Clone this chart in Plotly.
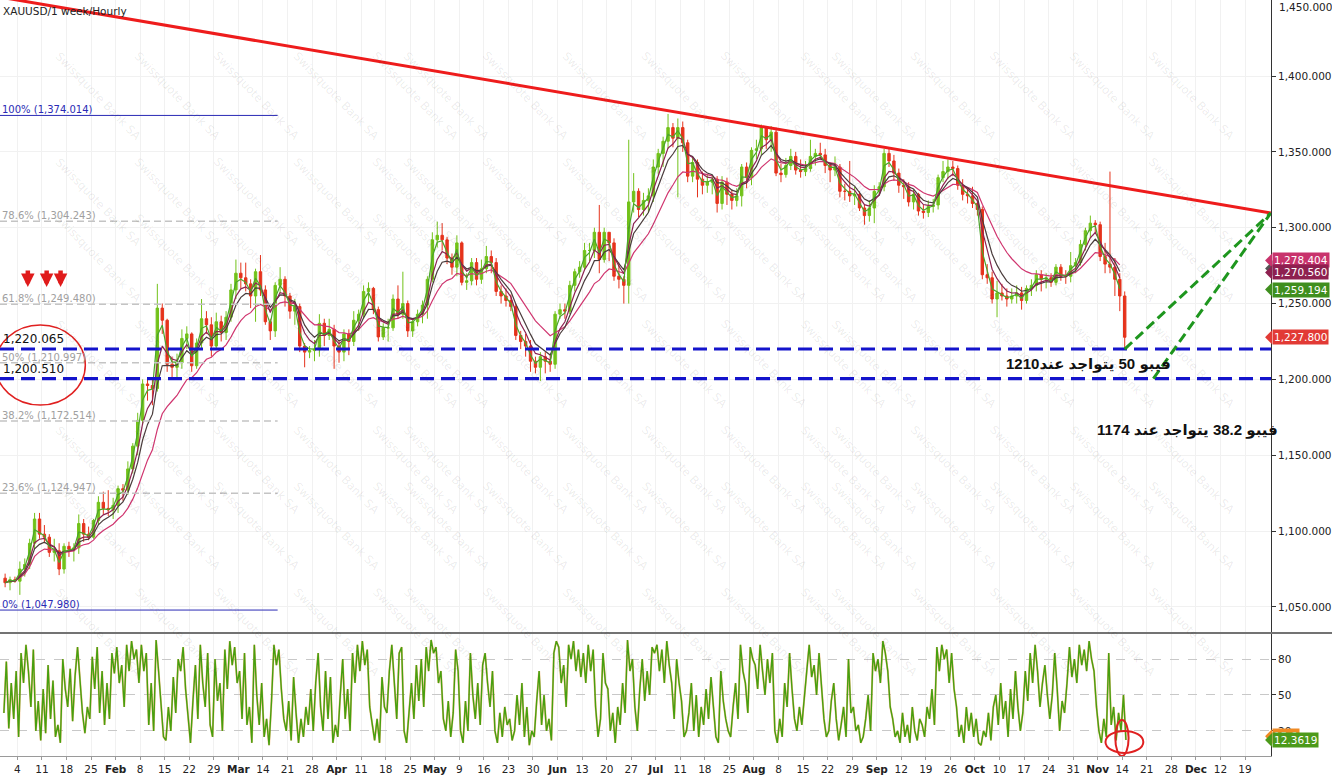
import pandas as pd
import plotly.graph_objects as go

# ---------------- data ----------------
trade_days = pd.bdate_range("2015-12-30", "2016-11-14")

price_open = [
    1069, 1066, 1068,
    1067, 1075, 1078, 1092, 1108,
    1098, 1096, 1086, 1087, 1075,
    1090, 1088, 1089, 1105, 1098,
    1096, 1107, 1119, 1115, 1114,
    1117, 1128, 1127, 1141, 1156,
    1173, 1197, 1196, 1194, 1247,
    1239, 1210, 1208, 1211, 1227,
    1230, 1209, 1224, 1240, 1236,
    1222, 1238, 1231, 1241, 1259,
    1270, 1267, 1263, 1255, 1271,
    1259, 1238, 1232, 1262, 1266,
    1255, 1245, 1248, 1222, 1218,
    1219, 1220, 1237, 1229, 1233,
    1222, 1218, 1230, 1225, 1239,
    1243, 1258, 1260, 1246, 1228,
    1234, 1234, 1253, 1243, 1250,
    1232, 1238, 1243, 1249, 1266,
    1292, 1295, 1292, 1280, 1274,
    1290, 1264, 1265, 1277, 1266,
    1273, 1281, 1277, 1258, 1255,
    1252, 1248, 1229, 1225, 1222,
    1212, 1208, 1215, 1212, 1210,
    1243, 1246, 1245, 1262, 1271,
    1274, 1285, 1285, 1297, 1279,
    1297, 1290, 1268, 1266, 1262,
    1317, 1324, 1312, 1318, 1321,
    1340, 1349, 1357, 1366, 1359,
    1366, 1356, 1334, 1343, 1332,
    1328, 1330, 1332, 1316, 1330,
    1322, 1318, 1321, 1340, 1333,
    1351, 1352, 1366, 1358, 1363,
    1336, 1335, 1341, 1347, 1338,
    1337, 1339, 1347, 1349, 1348,
    1341, 1338, 1340, 1324, 1324,
    1321, 1322, 1313, 1308, 1313,
    1324, 1327, 1349, 1344, 1336,
    1328, 1327, 1317, 1322, 1311,
    1310, 1314, 1315, 1333, 1337,
    1340, 1339, 1328, 1322, 1321,
    1316, 1312, 1269, 1267, 1253,
    1257, 1255, 1253, 1255, 1257,
    1252, 1260, 1262, 1269, 1266,
    1267, 1264, 1274, 1268, 1268,
    1275, 1277, 1289, 1298, 1303,
    1302, 1281, 1276, 1274, 1266,
    1255,
]
price_high = [
    1072, 1070, 1070,
    1080, 1082, 1095, 1112, 1112,
    1104, 1098, 1095, 1092, 1092,
    1093, 1092, 1111, 1108, 1103,
    1108, 1123, 1126, 1127, 1122,
    1130, 1131, 1146, 1158, 1178,
    1200, 1200, 1200, 1263, 1250,
    1240, 1215, 1217, 1233, 1235,
    1231, 1227, 1253, 1245, 1241,
    1244, 1242, 1245, 1263, 1279,
    1277, 1277, 1266, 1273, 1282,
    1262, 1240, 1264, 1274, 1268,
    1257, 1253, 1250, 1224, 1222,
    1226, 1243, 1240, 1240, 1236,
    1226, 1233, 1233, 1245, 1246,
    1262, 1264, 1261, 1248, 1237,
    1240, 1256, 1262, 1271, 1252,
    1240, 1246, 1252, 1268, 1297,
    1304, 1303, 1294, 1283, 1295,
    1291, 1270, 1280, 1280, 1279,
    1288, 1285, 1280, 1262, 1260,
    1256, 1250, 1232, 1230, 1226,
    1215, 1218, 1218, 1216, 1245,
    1250, 1250, 1265, 1273, 1278,
    1290, 1290, 1300, 1315, 1300,
    1297, 1293, 1277, 1268, 1358,
    1336, 1326, 1323, 1326, 1345,
    1352, 1360, 1375, 1369, 1372,
    1370, 1358, 1347, 1345, 1337,
    1335, 1334, 1334, 1334, 1333,
    1325, 1326, 1342, 1343, 1353,
    1358, 1368, 1367, 1367, 1366,
    1342, 1346, 1352, 1350, 1345,
    1344, 1358, 1352, 1356, 1352,
    1342, 1347, 1342, 1329, 1344,
    1327, 1324, 1315, 1318, 1328,
    1330, 1352, 1353, 1348, 1339,
    1332, 1330, 1325, 1323, 1315,
    1318, 1319, 1335, 1344, 1345,
    1344, 1341, 1332, 1326, 1327,
    1318, 1314, 1276, 1271, 1265,
    1263, 1260, 1260, 1262, 1261,
    1262, 1266, 1272, 1272, 1270,
    1270, 1276, 1276, 1272, 1284,
    1280, 1292, 1300, 1308, 1305,
    1304, 1290, 1337, 1280, 1270,
    1258,
]
price_low = [
    1063, 1061, 1066,
    1058, 1070, 1075, 1088, 1095,
    1092, 1083, 1080, 1071, 1072,
    1083, 1080, 1085, 1093, 1094,
    1095, 1104, 1111, 1110, 1108,
    1112, 1120, 1124, 1138, 1150,
    1170, 1186, 1183, 1192, 1230,
    1205, 1201, 1200, 1207, 1220,
    1205, 1207, 1220, 1230, 1215,
    1220, 1225, 1226, 1238, 1253,
    1260, 1258, 1247, 1238, 1255,
    1236, 1226, 1228, 1257, 1248,
    1240, 1236, 1218, 1208, 1214,
    1212, 1215, 1222, 1226, 1207,
    1211, 1212, 1216, 1222, 1232,
    1240, 1251, 1243, 1225, 1226,
    1225, 1232, 1240, 1240, 1228,
    1228, 1235, 1237, 1240, 1264,
    1287, 1285, 1276, 1269, 1268,
    1262, 1259, 1262, 1262, 1263,
    1270, 1270, 1255, 1250, 1248,
    1245, 1226, 1220, 1215, 1205,
    1204, 1199, 1204, 1205, 1207,
    1240, 1240, 1243, 1258, 1267,
    1272, 1278, 1280, 1270, 1277,
    1278, 1265, 1260, 1250, 1250,
    1310, 1307, 1308, 1310, 1317,
    1335, 1340, 1352, 1353, 1320,
    1350, 1330, 1330, 1320, 1322,
    1323, 1322, 1310, 1312, 1315,
    1312, 1314, 1314, 1326, 1328,
    1345, 1348, 1352, 1350, 1334,
    1330, 1333, 1338, 1335, 1333,
    1334, 1337, 1341, 1345, 1336,
    1330, 1334, 1320, 1318, 1317,
    1315, 1311, 1302, 1304, 1303,
    1322, 1324, 1340, 1331, 1323,
    1319, 1314, 1312, 1308, 1306,
    1307, 1310, 1312, 1330, 1332,
    1334, 1325, 1318, 1316, 1313,
    1308, 1266, 1263, 1250, 1241,
    1252, 1248, 1250, 1250, 1246,
    1250, 1255, 1258, 1258, 1260,
    1261, 1262, 1265, 1263, 1264,
    1270, 1275, 1285, 1293, 1296,
    1278, 1270, 1270, 1255, 1245,
    1220,
]
price_close = [
    1066, 1068, 1067,
    1075, 1078, 1092, 1108, 1098,
    1096, 1086, 1087, 1075, 1090,
    1088, 1089, 1105, 1098, 1096,
    1107, 1119, 1115, 1114, 1117,
    1128, 1127, 1141, 1156, 1173,
    1197, 1196, 1194, 1247, 1239,
    1210, 1208, 1211, 1227, 1230,
    1209, 1224, 1240, 1236, 1222,
    1238, 1231, 1241, 1259, 1270,
    1267, 1263, 1255, 1271, 1259,
    1238, 1232, 1262, 1266, 1255,
    1245, 1248, 1222, 1218, 1219,
    1220, 1237, 1229, 1233, 1222,
    1218, 1230, 1225, 1239, 1243,
    1258, 1260, 1246, 1228, 1234,
    1234, 1253, 1243, 1250, 1232,
    1238, 1243, 1249, 1266, 1292,
    1295, 1292, 1280, 1274, 1290,
    1264, 1265, 1277, 1266, 1273,
    1281, 1277, 1258, 1255, 1252,
    1248, 1229, 1225, 1222, 1212,
    1208, 1215, 1212, 1210, 1243,
    1246, 1245, 1262, 1271, 1274,
    1285, 1285, 1297, 1279, 1297,
    1290, 1268, 1266, 1262, 1317,
    1324, 1312, 1318, 1321, 1340,
    1349, 1357, 1366, 1359, 1366,
    1356, 1334, 1343, 1332, 1328,
    1330, 1332, 1316, 1330, 1322,
    1318, 1321, 1340, 1333, 1351,
    1352, 1366, 1358, 1363, 1336,
    1335, 1341, 1347, 1338, 1337,
    1339, 1347, 1349, 1348, 1341,
    1338, 1340, 1324, 1324, 1321,
    1322, 1313, 1308, 1313, 1324,
    1327, 1349, 1344, 1336, 1328,
    1327, 1317, 1322, 1311, 1310,
    1314, 1315, 1333, 1337, 1340,
    1339, 1328, 1322, 1321, 1316,
    1312, 1269, 1267, 1253, 1257,
    1255, 1253, 1255, 1257, 1252,
    1260, 1262, 1269, 1266, 1267,
    1264, 1274, 1268, 1268, 1275,
    1277, 1289, 1298, 1303, 1302,
    1281, 1276, 1274, 1266, 1255,
    1227.8,
]

# stochastic %K, two readings per trading day
stoch_k = [
    35, 78, 22, 60, 30, 70,
    15, 85, 60, 92, 70, 40, 88, 20, 45, 12,
    55, 18, 75, 30, 62, 15, 25, 10, 80, 55,
    40, 72, 28, 66, 90, 60, 35, 18, 40, 30,
    82, 55, 90, 35, 70, 25, 60, 30, 85, 68,
    90, 60, 75, 40, 92, 70, 95, 80, 88, 60,
    92, 70, 85, 25, 60, 20, 96, 70, 45, 15,
    12, 40, 20, 65, 35, 80, 70, 90, 55, 30,
    10, 45, 75, 30, 92, 60, 40, 85, 25, 15,
    80, 45, 60, 20, 88, 55, 95, 75, 90, 60,
    70, 30, 85, 25, 40, 10, 92, 50, 25, 60,
    15, 30, 8, 45, 92, 75, 88, 55, 30, 20,
    45, 12, 65, 35, 10, 30, 15, 40, 25, 55,
    20, 60, 85, 40, 20, 70, 30, 65, 10, 25,
    15, 50, 80, 30, 55, 20, 85, 60, 92, 70,
    95, 75, 88, 40, 25, 12, 30, 10, 65, 40,
    35, 70, 92, 60, 30, 85, 90, 20, 10, 35,
    60, 30, 75, 45, 80, 40, 90, 70, 96, 85,
    90, 60, 70, 30, 20, 45, 15, 35, 88, 70,
    20, 10, 45, 20, 85, 50, 30, 60, 25, 75,
    85, 60, 40, 70, 20, 10, 35, 15, 40, 25,
    30, 12, 20, 50, 25, 60, 15, 40, 8, 20,
    15, 45, 70, 25, 50, 20, 30, 12, 85, 95,
    90, 60, 75, 40, 92, 80, 95, 70, 88, 65,
    85, 60, 92, 70, 88, 40, 15, 30, 85, 60,
    55, 20, 35, 10, 40, 25, 60, 35, 96, 70,
    80, 40, 20, 55, 80, 45, 70, 50, 90, 85,
    92, 70, 88, 60, 95, 75, 60, 30, 80, 60,
    45, 15, 20, 35, 60, 20, 50, 15, 40, 25,
    55, 30, 65, 40, 15, 10, 70, 45, 30, 20,
    15, 40, 60, 30, 92, 70, 60, 35, 90, 80,
    75, 55, 92, 70, 50, 80, 60, 85, 20, 10,
    30, 15, 60, 40, 85, 55, 30, 20, 40, 25,
    45, 70, 92, 65, 75, 50, 85, 60, 30, 15,
    20, 45, 60, 30, 12, 25, 40, 15, 80, 35,
    40, 20, 25, 10, 15, 30, 50, 20, 85, 70,
    80, 60, 95, 85, 70, 40, 30, 15, 20, 10,
    35, 15, 25, 10, 40, 20, 12, 30, 25, 15,
    40, 30, 55, 25, 90, 70, 92, 80, 88, 60,
    85, 55, 40, 15, 25, 10, 40, 20, 35, 15,
    30, 10, 8, 20, 15, 35, 12, 40, 50, 25,
    60, 30, 45, 15, 55, 30, 70, 40, 20, 35,
    70, 45, 85, 60, 92, 70, 40, 60, 75, 50,
    30, 50, 85, 55, 20, 45, 35, 60, 90, 65,
    80, 60, 92, 75, 88, 70, 95, 80, 70, 40,
    20, 10, 30, 15, 85, 25, 40, 12, 35, 20,
    50, 12.3619,
]

tick_dates = pd.date_range("2016-01-04", periods=51, freq="7D")
tick_labels = ["4", "11", "18", "25", "Feb", "8", "15", "22", "29", "Mar", "14", "21", "28",
               "Apr", "11", "18", "25", "May", "9", "16", "23", "30", "Jun", "13", "20", "27",
               "Jul", "11", "18", "25", "Aug", "8", "15", "22", "29", "Sep", "12", "19", "26",
               "Oct", "10", "17", "24", "31", "Nov", "14", "21", "28", "Dec", "12", "19"]
month_names = {"Feb", "Mar", "Apr", "May", "Jun", "Jul", "Aug", "Sep", "Oct", "Nov", "Dec"}

price_ticks = [1050, 1100, 1150, 1200, 1250, 1300, 1350, 1400]

fib_labels = ["100% (1,374.014)", "78.6% (1,304.243)", "61.8% (1,249.480)", "50% (1,210.997)",
              "38.2% (1,172.514)", "23.6% (1,124.947)", "0% (1,047.980)"]
fib_levels = [1374.014, 1304.243, 1249.480, 1210.997, 1172.514, 1124.947, 1047.980]
fib_start, fib_end = "2015-12-29 11:00", "2016-03-17 00:00"

support_levels = [1220.065, 1200.510]
support_labels = ["1,220.065", "1,200.510"]

trend_pts = [("2015-12-29 11:00", 1452.0), ("2016-12-26 06:00", 1309.7)]
target_lines = [("2016-11-14 12:00", 1220.0), ("2016-11-22 08:00", 1200.5)]

ma_spans = [13, 6, 4, 2]
ma_colors = ["#d0356f", "#4a3c3c", "#8c2352", "#4aa52a"]

tag_values = [1273.195, 1278.404, 1270.560, 1259.194, 1227.800]
tag_texts = ["1,273.195", "1,278.404", "1,270.560", "1,259.194", "1,227.800"]
tag_colors = ["#555555", "#c8336c", "#8e2050", "#3f8f1f", "#e23a35"]

stoch_tag_values = [15.6, 12.3619]
stoch_tag_texts = ["15.6", "12.3619"]
stoch_tag_colors = ["#f08a24", "#4c9a1a"]

arrow_x = ["2016-01-06 03:00", "2016-01-11 23:00", "2016-01-14 19:00"]
arrow_y = 1261

arabic_notes = ["<b>فيبو 50 يتواجد عند1210</b>", "<b>فيبو 38.2 يتواجد عند 1174</b>"]
arabic_pos = [("2016-11-01 00:00", 1210.2), ("2016-11-29 05:00", 1166.6)]

# ---------------- figure ----------------
FONT = "DejaVu Sans"
UP, DN = "#72c21a", "#e5331c"
candle_x = trade_days + pd.Timedelta(hours=12)
stoch_x = [d + pd.Timedelta(hours=h) for d in trade_days for h in (6, 18)]
assert len(price_open) == len(price_high) == len(price_low) == len(price_close) == len(trade_days)
assert len(stoch_k) == len(stoch_x)

fig = go.Figure()
fig.add_trace(go.Candlestick(
    x=candle_x, open=price_open, high=price_high, low=price_low, close=price_close,
    increasing=dict(line=dict(color=UP, width=1), fillcolor=UP),
    decreasing=dict(line=dict(color=DN, width=1), fillcolor=DN),
    whiskerwidth=0, xaxis="x", yaxis="y", showlegend=False))

closes = pd.Series(price_close[:-1])
for span, col in zip(ma_spans, ma_colors):
    fig.add_trace(go.Scatter(x=candle_x[:-1], y=closes.ewm(span=span).mean(), mode="lines",
                             line=dict(color=col, width=1.2), xaxis="x", yaxis="y",
                             showlegend=False, hoverinfo="skip"))

fig.add_trace(go.Scatter(x=stoch_x, y=stoch_k, mode="lines", line=dict(color="#f28c28", width=2.0),
                         opacity=0.55, xaxis="x2", yaxis="y2", showlegend=False, hoverinfo="skip"))
fig.add_trace(go.Scatter(x=stoch_x, y=stoch_k, mode="lines", line=dict(color="#46a010", width=1.4),
                         xaxis="x2", yaxis="y2", showlegend=False))

shapes = []
for lvl, lab in zip(fib_levels, fib_labels):
    blue = lab.startswith("100%") or lab.startswith("0%")
    shapes.append(dict(type="line", xref="x", yref="y", x0=fib_start, x1=fib_end, y0=lvl, y1=lvl,
                       line=dict(color="#2a2ab5" if blue else "#c4c4c4", width=1 if blue else 1.5,
                                 dash="solid" if blue else "7px,4px")))
for lvl in support_levels:
    shapes.append(dict(type="line", xref="paper", yref="y", x0=0, x1=1, y0=lvl, y1=lvl,
                       line=dict(color="#1414cc", width=3.2, dash="14px,7px")))
shapes.append(dict(type="line", xref="x", yref="y", x0=trend_pts[0][0], y0=trend_pts[0][1],
                   x1=trend_pts[1][0], y1=trend_pts[1][1], line=dict(color="#ee1c1c", width=3)))
for xs, ys in target_lines:
    shapes.append(dict(type="line", xref="x", yref="y", x0=xs, y0=ys,
                       x1=trend_pts[1][0], y1=trend_pts[1][1],
                       line=dict(color="#1e961e", width=3, dash="10px,5px")))
shapes.append(dict(type="circle", xref="x", yref="y", x0="2015-12-28 12:00", x1="2016-01-21 20:00",
                   y0=1183.1, y1=1235.9, line=dict(color="#e02020", width=1.5)))
shapes.append(dict(type="circle", xref="x2", yref="y2", x0="2016-11-08 14:00", x1="2016-11-18 07:00",
                   y0=1.6, y1=20, line=dict(color="#e02020", width=2)))
shapes.append(dict(type="circle", xref="x2", yref="y2", x0="2016-11-10 14:00", x1="2016-11-15 07:00",
                   y0=-1, y1=29, line=dict(color="#e02020", width=2)))
# panel separator
shapes.append(dict(type="line", xref="paper", yref="paper", x0=0, x1=1.05, y0=0.1627, y1=0.1627,
                   line=dict(color="#444444", width=1.5)))
# pointed left ends of the value tags on the right axis
TIP, BASE = 1275 / 1281, 1282 / 1281
for v, c in zip(tag_values, tag_colors):
    h = 7 / 1.517
    shapes.append(dict(type="path", xref="paper", yref="y", fillcolor=c, line=dict(width=0),
                       path=f"M {TIP},{v} L {BASE},{v + h} L {BASE},{v - h} Z"))
for v, c in zip(stoch_tag_values, stoch_tag_colors):
    h = 7 / 1.196
    shapes.append(dict(type="path", xref="paper", yref="y2", fillcolor=c, line=dict(width=0),
                       path=f"M {TIP},{v} L {BASE},{v + h} L {BASE},{v - h} Z"))

ann = []
# watermark
for j in range(16):
    for k in range(7):
        ann.append(dict(text="Swissquote Bank SA", xref="paper", yref="paper",
                        x=(50 + 80 * j) / 1281, y=1 - (46 + 106 * k) / 756, showarrow=False,
                        textangle=46, font=dict(family=FONT, size=11.5, color="rgba(0,0,0,0.085)")))
ann.append(dict(text="XAUUSD/1 week/Hourly", xref="paper", yref="paper", x=0, y=1, xanchor="left",
                yanchor="top", xshift=1, yshift=-3, showarrow=False,
                font=dict(family=FONT, size=10.5, color="#222")))
ann.append(dict(text="1,450.000", xref="paper", yref="y", x=1, y=1450, xanchor="left", yanchor="top",
                xshift=6, yshift=1, showarrow=False, font=dict(family=FONT, size=10.5, color="#222")))
for lvl, lab in zip(fib_levels, fib_labels):
    blue = lab.startswith("100%") or lab.startswith("0%")
    ann.append(dict(text=lab, xref="paper", yref="y", x=0, y=lvl, xanchor="left", yanchor="bottom",
                    yshift=-2, showarrow=False,
                    font=dict(family=FONT, size=10, color="#2a2ab5" if blue else "#a0a0a0")))
for lvl, lab in zip(support_levels, support_labels):
    ann.append(dict(text=lab, xref="paper", yref="y", x=0, y=lvl, xanchor="left", yanchor="bottom",
                    xshift=1, yshift=1, showarrow=False, font=dict(family=FONT, size=12, color="#111")))
for ax_ in arrow_x:
    ann.append(dict(text="", x=ax_, y=arrow_y, xref="x", yref="y", showarrow=True, ax=0, ay=-18,
                    arrowhead=2, arrowsize=0.6, arrowwidth=4.5, arrowcolor="#e01b1b"))
for txt, (px, py) in zip(arabic_notes, arabic_pos):
    ann.append(dict(text=txt, x=px, y=py, xref="x", yref="y", showarrow=False, xshift=10,
                    font=dict(family="Liberation Sans, DejaVu Sans", size=15, color="#111")))
for v, t, c in zip(tag_values, tag_texts, tag_colors):
    ann.append(dict(text=t, xref="paper", yref="y", x=1, y=v, xanchor="left", xshift=1,
                    showarrow=False, bgcolor=c, borderpad=1,
                    font=dict(family=FONT, size=10.5, color="white")))
for v, t, c in zip(stoch_tag_values, stoch_tag_texts, stoch_tag_colors):
    ann.append(dict(text=t, xref="paper", yref="y2", x=1, y=v, xanchor="left", xshift=1,
                    showarrow=False, bgcolor=c, borderpad=1,
                    font=dict(family=FONT, size=10.5, color="white")))

ticktext = ["<b>%s</b>" % t if t in month_names else t for t in tick_labels]
rb = [dict(bounds=["sat", "mon"])]
xrange_ = ["2015-12-29 11:00", "2016-12-26 07:00"]

fig.update_layout(
    width=1332, height=776, margin=dict(l=0, r=51, t=0, b=20),
    paper_bgcolor="white", plot_bgcolor="white", showlegend=False,
    font=dict(family=FONT, size=10.5, color="#222"),
    shapes=shapes, annotations=ann,
    xaxis=dict(domain=[0, 1], anchor="y", type="date", range=xrange_, rangebreaks=rb,
               rangeslider=dict(visible=False), tickvals=tick_dates, showticklabels=False,
               showgrid=True, gridcolor="#f1f1f1", zeroline=False, ticks=""),
    yaxis=dict(domain=[0.164, 1], anchor="x", side="right", range=[1033.5, 1450.1],
               tickvals=price_ticks, tickformat=",.3f", showgrid=True, gridcolor="#f1f1f1",
               showline=True, linecolor="#333", linewidth=1, ticks="outside", ticklen=4,
               tickcolor="#333", zeroline=False, tickfont=dict(family=FONT, size=10.5, color="#222")),
    xaxis2=dict(domain=[0, 1], anchor="y2", type="date", matches="x", range=xrange_, rangebreaks=rb,
                tickvals=tick_dates, ticktext=ticktext, showgrid=True, gridcolor="#f1f1f1",
                showline=True, linecolor="#9a9a9a", ticks="outside", ticklen=3, tickcolor="#9a9a9a",
                zeroline=False, tickangle=0, tickfont=dict(family=FONT, size=10.5, color="#222")),
    yaxis2=dict(domain=[0, 0.1614], anchor="x2", side="right", range=[-1, 101], tickvals=[20, 50, 80],
                showgrid=True, gridcolor="#c8c8c8", griddash="dash", showline=True, linecolor="#333",
                ticks="outside", ticklen=4, tickcolor="#333", zeroline=False,
                tickfont=dict(family=FONT, size=10.5, color="#222")),
)

fig.write_html("out.html")
